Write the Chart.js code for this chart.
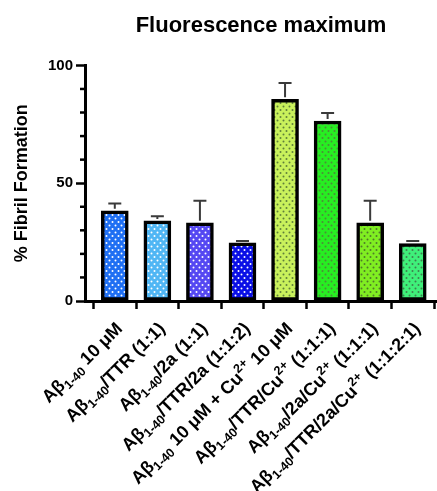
<!DOCTYPE html>
<html>
<head>
<meta charset="utf-8">
<script src="https://cdn.jsdelivr.net/npm/chart.js@4"></script>
<style>
  html, body { margin: 0; padding: 0; background: #ffffff; }
  #wrap { width: 437px; height: 491px; }
</style>
</head>
<body>
<div id="wrap"><canvas id="c" width="437" height="491"></canvas></div>
<script>
// labels: _{..} = subscript, ^{..} = superscript
const categories = [
  "Aβ_{1-40} 10 μM",
  "Aβ_{1-40}/TTR (1:1)",
  "Aβ_{1-40}/2a (1:1)",
  "Aβ_{1-40}/TTR/2a (1:1:2)",
  "Aβ_{1-40} 10 μM + Cu^{2+} 10 μM",
  "Aβ_{1-40}/TTR/Cu^{2+} (1:1:1)",
  "Aβ_{1-40}/2a/Cu^{2+} (1:1:1)",
  "Aβ_{1-40}/TTR/2a/Cu^{2+} (1:1:2:1)"
];
const fibrilMean = [38.3, 34.0, 33.2, 24.7, 85.6, 76.4, 33.2, 24.4];
const errorUpper = [41.4, 36.0, 42.5, 25.5, 92.5, 79.8, 42.5, 25.5];
const yTickLabels = [0, 50, 100];

const barColors = ["#1f6ff3", "#50b6f4", "#5548f2", "#0a0fe6", "#c9f15c", "#27ee22", "#80ee22", "#3ff07a"];
const dotColors = ["#ffffff", "#ffffff", "#ffffff", "#ffffff", "#5f7f3a", "#4f8a3a", "#4f7a2a", "#3f7f4f"];

function makePattern(bg, dot) {
  const t = document.createElement('canvas');
  t.width = 6; t.height = 7;
  const g = t.getContext('2d');
  g.fillStyle = bg; g.fillRect(0, 0, 6, 7);
  g.fillStyle = dot;
  g.beginPath(); g.arc(1.5, 1.5, 1.0, 0, Math.PI * 2); g.fill();
  g.beginPath(); g.arc(4.5, 5.0, 1.0, 0, Math.PI * 2); g.fill();
  return document.getElementById('c').getContext('2d').createPattern(t, 'repeat');
}
const patterns = barColors.map((c, i) => makePattern(c, dotColors[i]));

const FONT = "'Liberation Sans', Arial, Helvetica, sans-serif";
const MAIN_FONT = "bold 18px " + FONT;
const SMALL_FONT = "bold 12.5px " + FONT;

function parseRich(s) {
  const parts = s.split(/(_\{[^}]*\}|\^\{[^}]*\})/).filter(p => p.length);
  return parts.map(p => {
    if (p.startsWith('_{')) return { t: p.slice(2, -1), k: 'sub' };
    if (p.startsWith('^{')) return { t: p.slice(2, -1), k: 'sup' };
    return { t: p, k: 'n' };
  });
}
function plainText(s) { return parseRich(s).map(p => p.t).join(''); }

const extrasPlugin = {
  id: 'extras',
  afterDatasetsDraw(chart) {
    const ctx = chart.ctx;
    const xs = chart.scales.x, ys = chart.scales.y;
    ctx.save();
    // error bars (upper only)
    ctx.strokeStyle = '#3a3a3a';
    ctx.lineWidth = 2;
    errorUpper.forEach((e, i) => {
      const x = xs.getPixelForValue(i);
      const yTop = ys.getPixelForValue(fibrilMean[i]);
      const yE = ys.getPixelForValue(e);
      ctx.beginPath();
      ctx.moveTo(x, yTop - 2);
      ctx.lineTo(x, yE);
      ctx.moveTo(x - 6.5, yE);
      ctx.lineTo(x + 6.5, yE);
      ctx.stroke();
    });
    // minor y ticks
    ctx.strokeStyle = '#000';
    ctx.lineWidth = 2.5;
    const left = chart.chartArea.left;
    for (let v = 10; v < 100; v += 10) {
      if (v === 50) continue;
      const y = ys.getPixelForValue(v);
      ctx.beginPath();
      ctx.moveTo(left - 5, y);
      ctx.lineTo(left, y);
      ctx.stroke();
    }
    ctx.restore();
  },
  afterDraw(chart) {
    // category labels with sub/superscripts, rotated 45°
    const ctx = chart.ctx;
    const xs = chart.scales.x;
    const bottom = chart.chartArea.bottom;
    ctx.save();
    ctx.fillStyle = '#000';
    ctx.textAlign = 'left';
    ctx.textBaseline = 'alphabetic';
    categories.forEach((lab, i) => {
      const segs = parseRich(lab);
      let total = 0;
      segs.forEach(s => {
        ctx.font = s.k === 'n' ? MAIN_FONT : SMALL_FONT;
        s.w = ctx.measureText(s.t).width;
        total += s.w;
      });
      const ax = xs.getPixelForValue(i) + 4;
      const ay = bottom + 24;
      ctx.save();
      ctx.translate(ax, ay);
      ctx.rotate(-Math.PI / 4);
      let cx = -total;
      segs.forEach(s => {
        ctx.font = s.k === 'n' ? MAIN_FONT : SMALL_FONT;
        const by = s.k === 'sub' ? 10.5 : (s.k === 'sup' ? -1.5 : 6.5);
        ctx.fillText(s.t, cx, by);
        cx += s.w;
      });
      ctx.restore();
    });
    ctx.restore();
  }
};

new Chart(document.getElementById('c'), {
  type: 'bar',
  data: {
    datasets: [{
      data: fibrilMean.map((v, i) => ({ x: i, y: v })),
      backgroundColor: patterns,
      borderColor: '#000000',
      borderWidth: 3.5,
      borderSkipped: false,
      barThickness: 27
    }]
  },
  options: {
    responsive: false,
    animation: false,
    layout: { padding: 0 },
    plugins: {
      legend: { display: false },
      tooltip: { enabled: false },
      title: {
        display: true,
        text: 'Fluorescence maximum',
        fullSize: false,
        color: '#000',
        font: { family: FONT, size: 22, weight: 'bold' },
        padding: { top: 13, bottom: 26 }
      }
    },
    scales: {
      x: {
        type: 'linear',
        offset: false,
        min: -0.7,
        max: 7.57,
        afterBuildTicks(scale) {
          scale.ticks = categories.map((c, i) => ({ value: i }));
        },
        afterFit(scale) {
          scale.height = 190;
          scale.paddingLeft = 0;
          scale.paddingRight = 0;
        },
        ticks: {
          display: false,
          autoSkip: false,
          callback: (v) => plainText(categories[v])
        },
        grid: {
          drawOnChartArea: false,
          drawTicks: true,
          tickLength: 8,
          tickWidth: 2.5,
          tickColor: '#000'
        },
        border: { display: true, color: '#000', width: 3 }
      },
      y: {
        min: 0,
        max: 100,
        afterBuildTicks(scale) {
          scale.ticks = yTickLabels.map(v => ({ value: v }));
        },
        afterFit(scale) {
          scale.width = 85;
        },
        ticks: {
          padding: 3,
          color: '#000',
          font: { family: FONT, size: 15, weight: 'bold' }
        },
        grid: {
          drawOnChartArea: false,
          drawTicks: true,
          tickLength: 9,
          tickWidth: 2.5,
          tickColor: '#000'
        },
        border: { display: true, color: '#000', width: 3 },
        title: {
          display: true,
          text: '% Fibril Formation',
          color: '#000',
          font: { family: FONT, size: 18, weight: 'bold' },
          padding: { top: 11, bottom: 0 }
        }
      }
    }
  },
  plugins: [extrasPlugin]
});
</script>
</body>
</html>
